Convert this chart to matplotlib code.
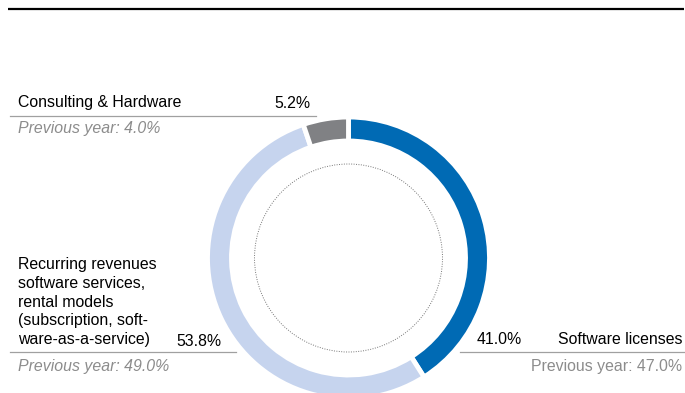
import matplotlib.pyplot as plt
from matplotlib.patches import Circle

plt.rcParams['font.family'] = ['Liberation Sans', 'DejaVu Sans']

# revenue split, clockwise from 12 o'clock
segments = ['Software licenses', 'Recurring revenues', 'Consulting & Hardware']
shares = [41.0, 53.8, 5.2]
previous = [47.0, 49.0, 4.0]
colors = ['#006AB4', '#C6D4EE', '#808184']

W, H = 685, 393
fig = plt.figure(figsize=(W / 100, H / 100), dpi=100)
ax = fig.add_axes([0, 0, 1, 1])

cx, cy, r = 348.5, H - 258, 141
ax.pie(shares, colors=colors, startangle=90, counterclock=False,
       center=(cx, cy), radius=r,
       wedgeprops=dict(width=24, edgecolor='white', linewidth=3.5))
ax.add_patch(Circle((cx, cy), 94, fill=False, ls=(0, (1, 1.5)),
                    lw=0.7, ec='#777777'))

ax.set_xlim(0, W)
ax.set_ylim(0, H)
ax.set_aspect('equal')
ax.axis('off')

def y(px):
    return H - px

# top rule
ax.plot([8, 684], [y(9), y(9)], color='black', lw=1.6, solid_capstyle='butt')

fs = 11.4
grey = '#8C8C8C'
rule = '#A0A0A0'

# Consulting & Hardware
ax.text(18, y(103), segments[2], fontsize=fs, va='center', ha='left')
ax.text(311, y(103), f'{shares[2]:.1f}%', fontsize=fs, va='center', ha='right')
ax.plot([10, 316], [y(116), y(116)], color=rule, lw=0.9)
ax.text(18, y(129), f'Previous year: {previous[2]:.1f}%', fontsize=fs,
        style='italic', color=grey, va='center', ha='left')

# Recurring revenues
rec_lines = ['Recurring revenues', 'software services,', 'rental models',
             '(subscription, soft-', 'ware-as-a-service)']
for i, line in enumerate(rec_lines):
    ax.text(18, y(265 + i * 18.6), line, fontsize=fs, va='center', ha='left')
ax.text(222, y(341), f'{shares[1]:.1f}%', fontsize=fs, va='center', ha='right')
ax.plot([10, 236], [y(352), y(352)], color=rule, lw=0.9)
ax.text(18, y(367), f'Previous year: {previous[1]:.1f}%', fontsize=fs,
        style='italic', color=grey, va='center', ha='left')

# Software licenses
ax.text(477, y(340), f'{shares[0]:.1f}%', fontsize=fs, va='center', ha='left')
ax.text(683, y(340), segments[0], fontsize=fs, va='center', ha='right')
ax.plot([460, 684], [y(352), y(352)], color=rule, lw=0.9)
ax.text(682, y(366), f'Previous year: {previous[0]:.1f}%', fontsize=fs,
        color=grey, va='center', ha='right')

fig.savefig('out.png', dpi=100)
